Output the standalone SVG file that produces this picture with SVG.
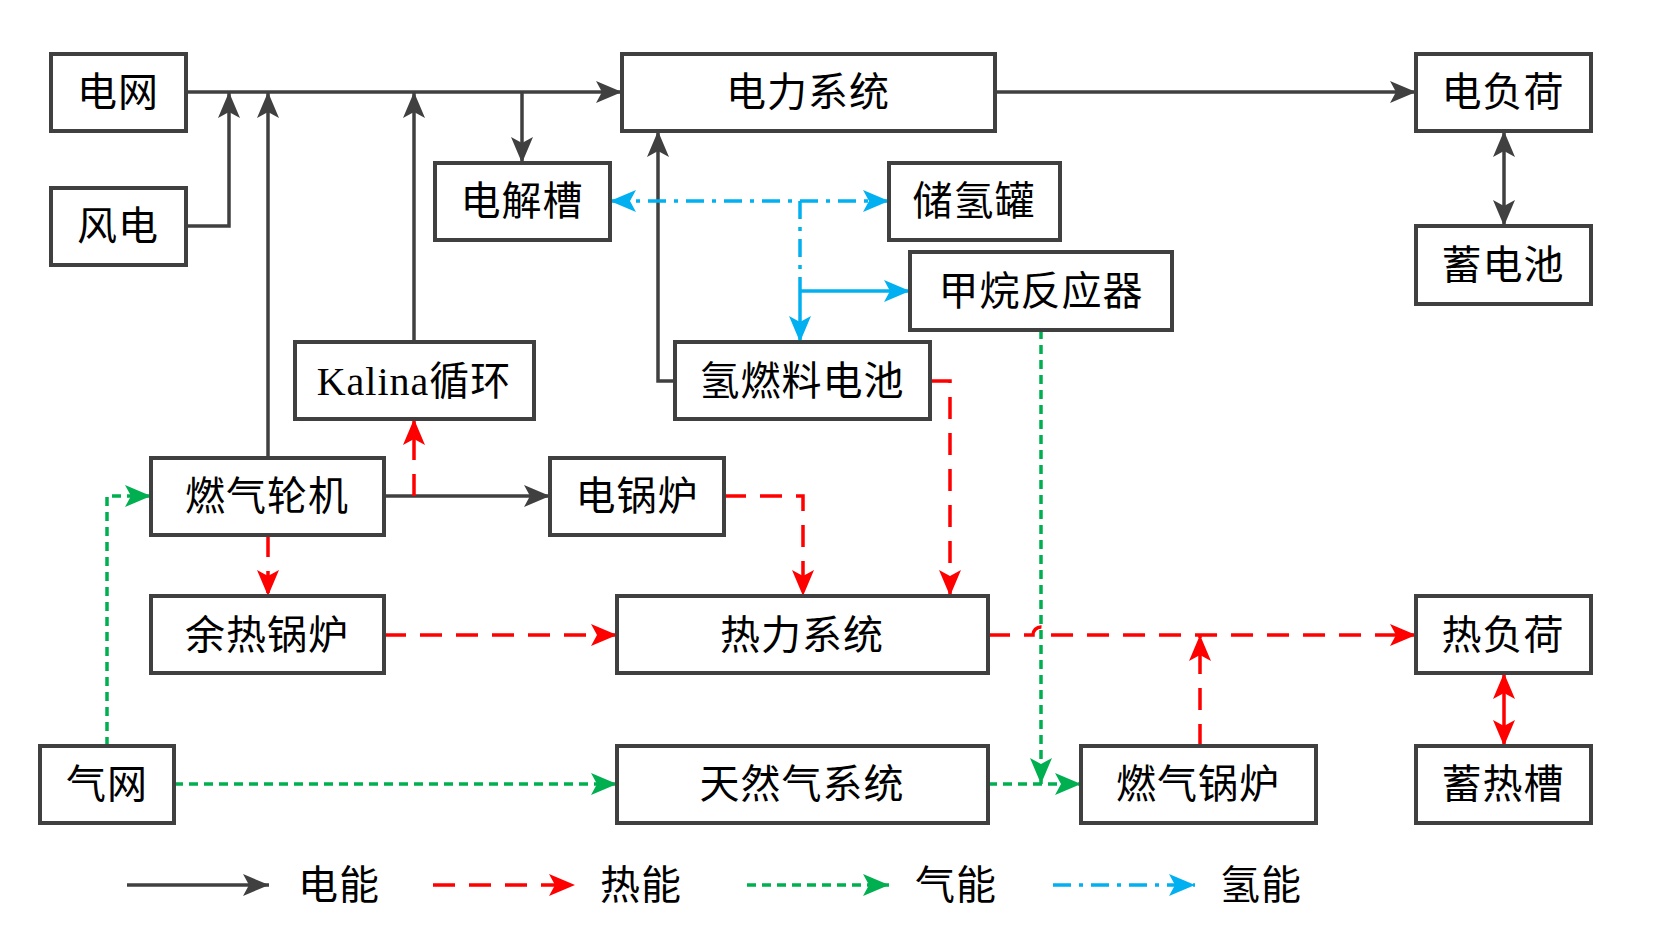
<svg xmlns="http://www.w3.org/2000/svg" width="1653" height="933" viewBox="0 0 1653 933">
<style>
.n rect{fill:#fff;stroke:#404040;stroke-width:4}
.n text{font-family:"Liberation Serif","Noto Sans CJK SC",serif;font-size:40px;fill:#000;text-anchor:middle;dominant-baseline:central;letter-spacing:1px}
.lg{font-family:"Liberation Serif","Noto Sans CJK SC",serif;font-size:40px;fill:#000;dominant-baseline:central;letter-spacing:1px}
.e{stroke:#404040;stroke-width:3.5;fill:none}
.h{stroke:#ff0000;stroke-width:3.5;fill:none;stroke-dasharray:22,14}
.g{stroke:#00b050;stroke-width:3.5;fill:none;stroke-dasharray:9,6}
.b{stroke:#00b0f0;stroke-width:3.5;fill:none;stroke-dasharray:18,8,4,8}
</style>
<defs>
<marker id="ae" markerUnits="userSpaceOnUse" markerWidth="26" markerHeight="22" refX="26" refY="11" orient="auto-start-reverse"><path d="M0,0L26,11L0,22L6,11Z" fill="#404040"/></marker>
<marker id="ah" markerUnits="userSpaceOnUse" markerWidth="26" markerHeight="22" refX="26" refY="11" orient="auto-start-reverse"><path d="M0,0L26,11L0,22L6,11Z" fill="#ff0000"/></marker>
<marker id="ag" markerUnits="userSpaceOnUse" markerWidth="26" markerHeight="22" refX="26" refY="11" orient="auto-start-reverse"><path d="M0,0L26,11L0,22L6,11Z" fill="#00b050"/></marker>
<marker id="ab" markerUnits="userSpaceOnUse" markerWidth="26" markerHeight="22" refX="26" refY="11" orient="auto-start-reverse"><path d="M0,0L26,11L0,22L6,11Z" fill="#00b0f0"/></marker>
</defs>
<g id="connectors">
<path class="e" d="M186,92H622" marker-end="url(#ae)"/>
<path class="e" d="M186,226H229V92" marker-end="url(#ae)"/>
<path class="e" d="M268,458V92" marker-end="url(#ae)"/>
<path class="e" d="M414,342V92" marker-end="url(#ae)"/>
<path class="e" d="M522,92V163" marker-end="url(#ae)"/>
<path class="e" d="M995,92H1416" marker-end="url(#ae)"/>
<path class="e" d="M1504,131V226" marker-start="url(#ae)" marker-end="url(#ae)"/>
<path class="e" d="M675,381H658V131" marker-end="url(#ae)"/>
<path class="e" d="M384,496H550" marker-end="url(#ae)"/>
<path class="b" d="M610,201H889" marker-start="url(#ab)" marker-end="url(#ab)"/>
<path class="b" d="M800,201V291"/>
<path stroke="#00b0f0" stroke-width="3.5" fill="none" d="M800,291V342" marker-end="url(#ab)"/>
<path stroke="#00b0f0" stroke-width="3.5" fill="none" d="M800,291H910" marker-end="url(#ab)"/>
<path class="h" d="M414,496V419" marker-end="url(#ah)"/>
<path class="h" d="M268,535V596" marker-end="url(#ah)"/>
<path class="h" d="M724,496H803V596" marker-end="url(#ah)"/>
<path class="h" d="M930,381H950V596" marker-end="url(#ah)"/>
<path class="h" d="M384,635H617" marker-end="url(#ah)"/>
<path class="h" d="M988,635H1033A8,8 0 0 1 1049,635H1416" marker-end="url(#ah)"/>
<path class="h" d="M1200,746V635" marker-end="url(#ah)"/>
<path stroke="#ff0000" stroke-width="3.5" fill="none" d="M1504,673V746" marker-start="url(#ah)" marker-end="url(#ah)"/>
<path class="g" d="M107,746V496H151" marker-end="url(#ag)"/>
<path class="g" d="M174,784H617" marker-end="url(#ag)"/>
<path class="g" d="M988,784H1081" marker-end="url(#ag)"/>
<path class="g" d="M1041,330V784" marker-end="url(#ag)"/>
<path class="e" d="M127,885H269" marker-end="url(#ae)"/>
<path class="h" d="M433,885H575" marker-end="url(#ah)"/>
<path class="g" d="M747,885H889" marker-end="url(#ag)"/>
<path class="b" d="M1053,885H1195" marker-end="url(#ab)"/>
</g>
<g id="n1" class="n"><rect x="51" y="54" width="135" height="77"/><text x="118" y="92">电网</text></g>
<g id="n2" class="n"><rect x="51" y="188" width="135" height="77"/><text x="118" y="226">风电</text></g>
<g id="n3" class="n"><rect x="622" y="54" width="373" height="77"/><text x="808" y="92">电力系统</text></g>
<g id="n4" class="n"><rect x="1416" y="54" width="175" height="77"/><text x="1503" y="92">电负荷</text></g>
<g id="n5" class="n"><rect x="435" y="163" width="175" height="77"/><text x="522" y="201">电解槽</text></g>
<g id="n6" class="n"><rect x="889" y="163" width="171" height="77"/><text x="974" y="201">储氢罐</text></g>
<g id="n7" class="n"><rect x="1416" y="226" width="175" height="78"/><text x="1503" y="265">蓄电池</text></g>
<g id="n8" class="n"><rect x="910" y="252" width="262" height="78"/><text x="1041" y="291">甲烷反应器</text></g>
<g id="n9" class="n"><rect x="295" y="342" width="239" height="77"/><text x="414" y="381">Kalina循环</text></g>
<g id="n10" class="n"><rect x="675" y="342" width="255" height="77"/><text x="802" y="381">氢燃料电池</text></g>
<g id="n11" class="n"><rect x="151" y="458" width="233" height="77"/><text x="267" y="496">燃气轮机</text></g>
<g id="n12" class="n"><rect x="550" y="458" width="174" height="77"/><text x="637" y="496">电锅炉</text></g>
<g id="n13" class="n"><rect x="151" y="596" width="233" height="77"/><text x="267" y="635">余热锅炉</text></g>
<g id="n14" class="n"><rect x="617" y="596" width="371" height="77"/><text x="802" y="635">热力系统</text></g>
<g id="n15" class="n"><rect x="1416" y="596" width="175" height="77"/><text x="1503" y="635">热负荷</text></g>
<g id="n16" class="n"><rect x="40" y="746" width="134" height="77"/><text x="107" y="784">气网</text></g>
<g id="n17" class="n"><rect x="617" y="746" width="371" height="77"/><text x="802" y="784">天然气系统</text></g>
<g id="n18" class="n"><rect x="1081" y="746" width="235" height="77"/><text x="1198" y="784">燃气锅炉</text></g>
<g id="n19" class="n"><rect x="1416" y="746" width="175" height="77"/><text x="1503" y="784">蓄热槽</text></g>
<text class="lg" x="298" y="885">电能</text>
<text class="lg" x="600" y="885">热能</text>
<text class="lg" x="915" y="885">气能</text>
<text class="lg" x="1220" y="885">氢能</text>
</svg>
